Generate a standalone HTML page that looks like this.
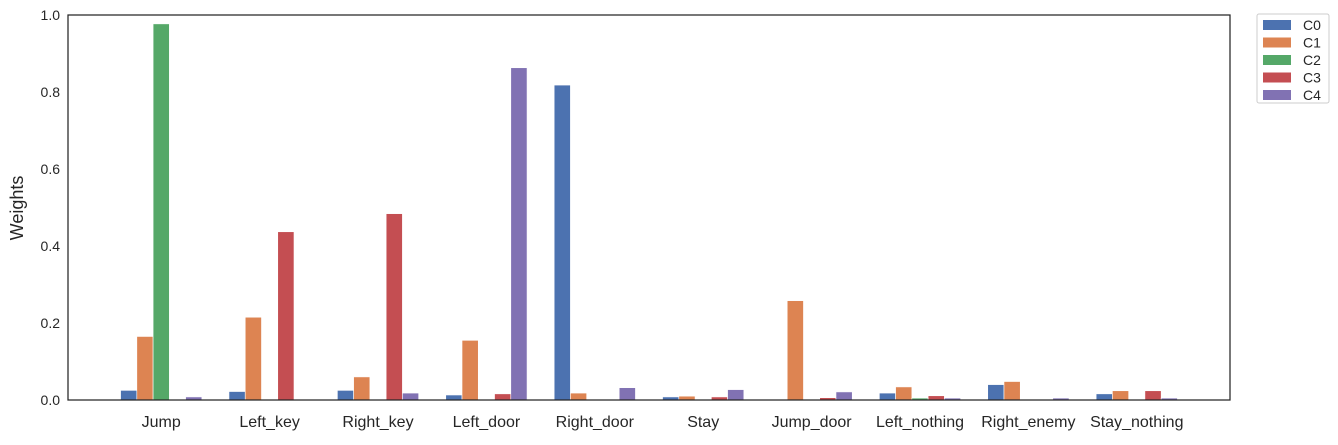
<!DOCTYPE html>
<html><head><meta charset="utf-8"><style>
body{margin:0;background:#fff;font-family:"Liberation Sans",sans-serif}
svg text{font-family:"Liberation Sans",sans-serif;fill:#262626}
</style></head><body>
<svg id="chart" width="1338" height="440" viewBox="0 0 1338 440" xmlns="http://www.w3.org/2000/svg">
<g id="bars"></g>
<rect x="68" y="15" width="1162" height="385" fill="none" stroke="#262626" stroke-width="1.25"/>
<g id="yticks"></g>
<g id="xticks"></g>
<text transform="translate(23,208) rotate(-90)" text-anchor="middle" font-size="18">Weights</text>
<g id="legend">
<rect x="1257" y="14" width="72" height="89" fill="#fff" stroke="#ccc" rx="2"/>
</g>
</svg>
<script>
const categories=["Jump","Left_key","Right_key","Left_door","Right_door","Stay","Jump_door","Left_nothing","Right_enemy","Stay_nothing"];
const seriesNames=["C0","C1","C2","C3","C4"];
const C0=[0.025,0.022,0.025,0.013,0.818,0.008,0.0,0.018,0.040,0.016];
const C1=[0.165,0.215,0.060,0.155,0.018,0.010,0.258,0.034,0.048,0.024];
const C2=[0.977,0.0,0.0,0.0,0.0,0.0,0.0,0.005,0.0,0.0];
const C3=[0.0,0.437,0.484,0.016,0.0,0.008,0.006,0.011,0.0,0.024];
const C4=[0.008,0.0,0.018,0.863,0.032,0.027,0.021,0.005,0.005,0.005];
const yTicks=[0,0.2,0.4,0.6,0.8,1.0];
const colors=["#4c72b0","#dd8452","#55a868","#c44e52","#8172b3"];
const series=[C0,C1,C2,C3,C4];
const NS="http://www.w3.org/2000/svg";
const X0=68,X1=1230,Y0=400,Y1=15,xmin=-0.86,xmax=9.86;
const xs=v=>X0+(v-xmin)/(xmax-xmin)*(X1-X0);
const ys=v=>Y0-(v/1.0)*(Y0-Y1);
const bw=0.15;
function mk(t,a,p){const e=document.createElementNS(NS,t);for(const k in a)e.setAttribute(k,a[k]);p.appendChild(e);return e;}
const gb=document.getElementById('bars');
series.forEach((s,si)=>{s.forEach((v,i)=>{
 const c=i+(si-2)*bw;
 const r=mk('rect',{x:xs(c-bw/2),y:ys(v),width:xs(bw)-xs(0),height:Y0-ys(v),fill:colors[si],stroke:'#fff','stroke-width':0.6},gb);
 
 
});});
const gy=document.getElementById('yticks');
yTicks.forEach(t=>{const e=mk('text',{x:60,y:ys(t)+5,'text-anchor':'end','font-size':14},gy);e.textContent=t.toFixed(1);
 
 });
const gx=document.getElementById('xticks');
categories.forEach((c,i)=>{const e=mk('text',{x:xs(i),y:427,'text-anchor':'middle','font-size':16},gx);e.textContent=c;
 
 });
const gl=document.getElementById('legend');
seriesNames.forEach((n,i)=>{const y=24+i*17.5;
 const r=mk('rect',{x:1263,y:y-4,width:28,height:10,fill:colors[i]},gl);
 
 
 const t=mk('text',{x:1303,y:y+6,'font-size':14},gl);t.textContent=n;
 
 });
</script>
</body></html>
